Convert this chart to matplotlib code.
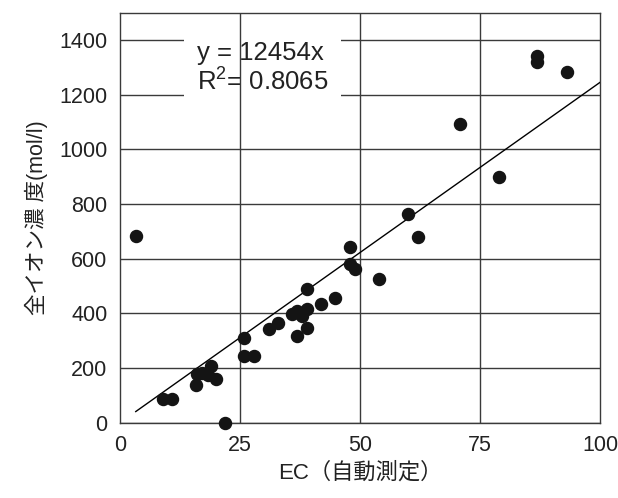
import numpy as np
import matplotlib.pyplot as plt

plt.rcParams['font.family'] = ['Liberation Sans', 'Noto Sans CJK JP', 'DejaVu Sans']
plt.rcParams['mathtext.default'] = 'regular'

# EC (automatic measurement) vs total ion concentration
ec = [3.3, 8.9, 10.9, 15.8, 16.0, 17.0, 18.4, 19.0, 20.0, 21.9,
      25.9, 25.9, 27.9, 31.0, 32.9, 35.8, 36.8, 36.9, 38.0, 39.0,
      39.0, 39.0, 41.9, 44.9, 47.9, 47.9, 49.0, 53.9, 59.9, 62.0,
      70.9, 78.9, 86.9, 86.9, 93.1]
ion = [683, 87, 87, 140, 178, 183, 174, 207, 159, 0,
       312, 243, 243, 342, 366, 399, 409, 316, 389, 417,
       345, 488, 436, 456, 642, 582, 564, 526, 764, 678,
       1093, 900, 1342, 1318, 1284]

slope = 12.454
eq_text = 'y = 12454x'
r2_text = 'R$^{2}$= 0.8065'

fig = plt.figure(figsize=(6.18, 4.98), dpi=100)
ax = fig.add_axes([0.194, 0.151, 0.777, 0.8235])

ax.set_xlim(0, 100)
ax.set_ylim(0, 1500)
ax.set_xticks([0, 25, 50, 75, 100])
ax.set_yticks(range(0, 1401, 200))

# horizontal grid sits under the label box, vertical lines above it
ax.grid(axis='y', color='#3a3a3a', linewidth=1.0, zorder=0)
ax.set_axisbelow(True)
for xv in [25, 50, 75]:
    ax.axvline(xv, color='#3a3a3a', linewidth=1.0, zorder=2)

ax.text(16.0, 1295, eq_text + '\n' + r2_text, fontsize=18.5, linespacing=1.15,
        va='center', ha='left', multialignment='left', zorder=1, color='#222222',
        bbox=dict(boxstyle='square,pad=0.5', facecolor='white', edgecolor='none'))

xs = np.array([min(ec), 100])
ax.plot(xs, slope * xs, color='black', linewidth=1.0, zorder=3)
ax.scatter(ec, ion, s=75, color='#141414', zorder=4, clip_on=False)

for sp in ax.spines.values():
    sp.set_color('#3a3a3a')
    sp.set_linewidth(1.0)

ax.tick_params(length=0, labelsize=15.5, colors='#222222', pad=9)
ax.set_xlabel('EC（自動測定）', fontsize=16, color='#222222', labelpad=4)
ax.set_ylabel('全イオン濃 度(mol/l)', fontsize=15.5, color='#222222', labelpad=8)

fig.savefig('out.png', dpi=100)
